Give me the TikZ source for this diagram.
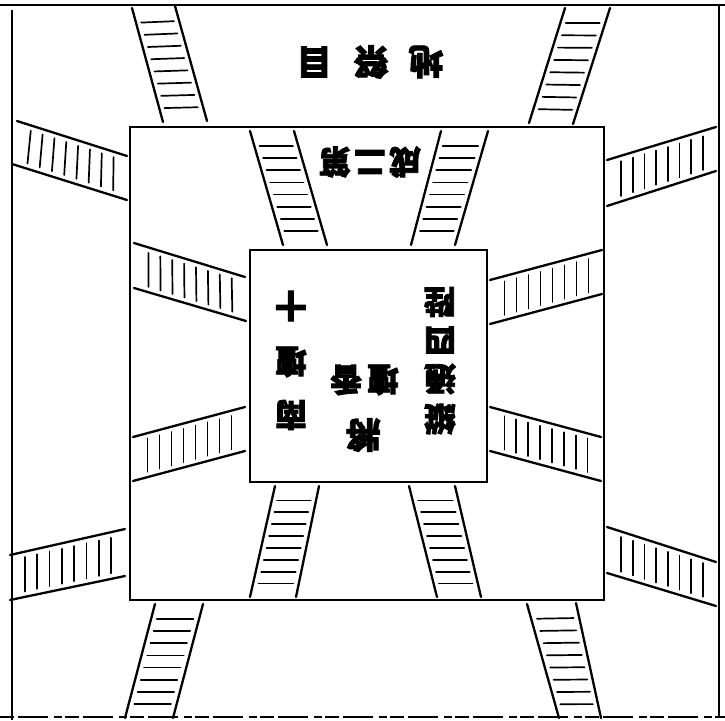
\documentclass[tikz,border=0pt]{standalone}
\usepackage{fontspec}
\newfontfamily\cjk[FakeBold=2.5]{Noto Sans CJK TC}
\usetikzlibrary{calc}
\tikzset{
 rail/.style={line width=2.3pt, line cap=round},
 rung/.style={line width=1.7pt, line cap=round},
 wall/.style={line width=2.2pt},
 glyph/.style={font=\cjk\bfseries\fontsize{32}{32}\selectfont, rotate=180, inner sep=0pt},
 bigglyph/.style={glyph, font=\cjk\bfseries\fontsize{35}{35}\selectfont},
}
\newcommand\ladder[4]{%
  \draw[rail] (#1) -- (#2);
  \draw[rail] (#3) -- (#4);
  \foreach \i in {0,...,7}{
    \pgfmathsetmacro\lt{0.13+0.107*\i}
    \coordinate (lp) at ($(#1)!\lt!(#2)$);
    \coordinate (lq) at ($(#3)!\lt!(#4)$);
    \draw[rung] ($(lp)!0.12!(lq)$) -- ($(lp)!0.88!(lq)$);
  }
}
\begin{document}
\begin{tikzpicture}[x=1pt,y=-1pt]
\useasboundingbox (0,0) rectangle (725,720);
% outer frame
\coordinate (f1) at (0,5); \coordinate (f2) at (725,5);
\coordinate (f3) at (12,10); \coordinate (f4) at (12,720);
\coordinate (f5) at (719,5); \coordinate (f6) at (719,716);
\coordinate (f7) at (0,717); \coordinate (f8) at (725,717);
\draw[wall] (f1) -- (f2);
\draw[wall] (f3) -- (f4);
\draw[line width=1.6pt] (f5) -- (f6);
\draw[line width=1.6pt, dash pattern=on 14pt off 4pt on 30pt off 6pt on 8pt off 3pt] (f7) -- (f8);
% squares
\draw[wall] (130,127) rectangle (604,600);
\draw[wall] (250,250) rectangle (487,482);
% outer ladders (top/bottom)
\ladder{132,8}{163,122}{175,6}{207,121}
\ladder{565,8}{529,123}{610,8}{573,124}
\ladder{155,604}{125,718}{203,604}{173,718}
\ladder{527,604}{559,718}{576,603}{601,718}
% middle ladders (top/bottom)
\ladder{250,131}{283,245}{294,131}{327,245}
\ladder{441,131}{411,245}{488,131}{455,245}
\ladder{275,486}{250,597}{319,486}{296,597}
\ladder{409,486}{437,597}{455,486}{481,597}
% outer side ladders
\ladder{17,121}{127,156}{12,164}{127,200}
\ladder{10,555}{125,529}{10,600}{125,576}
\ladder{607,160}{716,127}{607,206}{716,171}
\ladder{607,527}{716,562}{607,573}{716,606}
% middle side ladders
\ladder{134,243}{245,277}{134,288}{246,321}
\ladder{133,437}{245,407}{133,481}{245,451}
\ladder{490,280}{602,250}{490,324}{602,294}
\ladder{490,407}{601,437}{490,451}{601,481}
% texts (printed upside down)
\node[bigglyph] (a1) at (314,62) {目};
\node[bigglyph] (a2) at (371,62) {祭};
\node[bigglyph] (a3) at (426,62) {地};
\node[glyph] (b1) at (335,162) {第};
\node[glyph] (b2) at (370,162) {二};
\node[glyph] (b3) at (405,162) {成};
\node[glyph] (c1) at (440,302) {陛};
\node[glyph] (c2) at (440,340) {四};
\node[glyph] (c3) at (440,379) {通};
\node[glyph] (c4) at (440,419) {縱};
\node[glyph] (d1) at (346,380) {香};
\node[glyph] (d2) at (383,380) {壇};
\node[bigglyph] (d3) at (363,435) {將};
\node[glyph] (e1) at (291,306) {十};
\node[glyph] (e2) at (291,362) {壇};
\node[glyph] (e3) at (291,415) {南};
\end{tikzpicture}
\end{document}
